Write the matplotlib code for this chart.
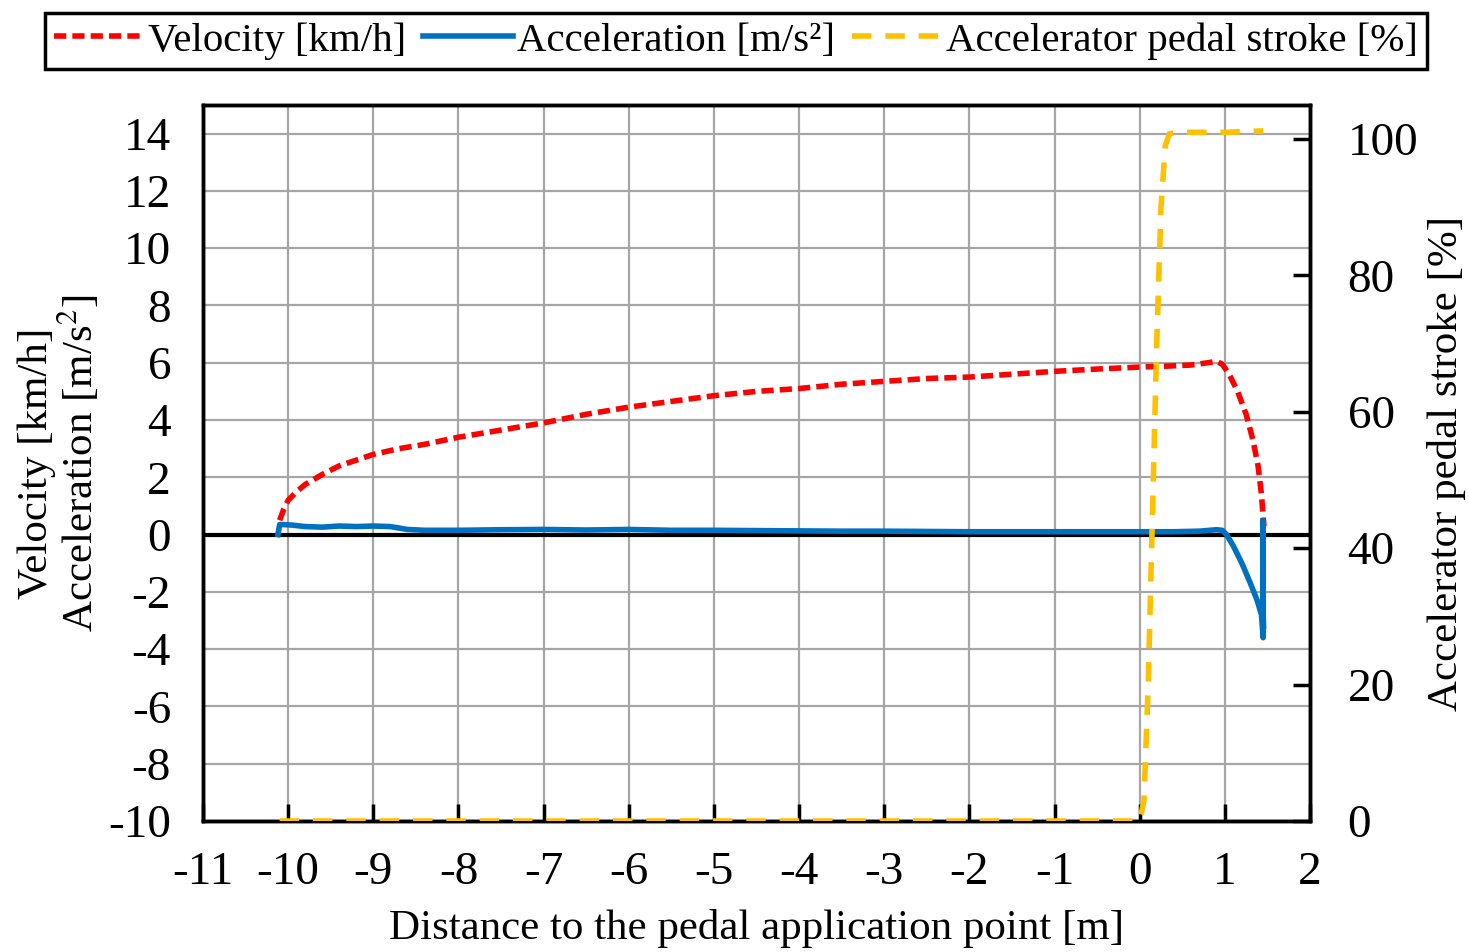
import matplotlib.pyplot as plt
import numpy as np

plt.rcParams['font.family'] = ['Liberation Serif', 'DejaVu Serif']
plt.rcParams['mathtext.fontset'] = 'stix'
plt.rcParams['axes.unicode_minus'] = False

# distance to pedal application point [m]
vel_x = [-10.1, -10.05, -10.0, -9.9, -9.8, -9.6, -9.4, -9.2, -9.0, -8.7, -8.4, -8.0,
         -7.5, -7.0, -6.5, -6.0, -5.5, -5.0, -4.5, -4.0, -3.5, -3.0, -2.5, -2.0,
         -1.5, -1.0, -0.5, 0.0, 0.3, 0.6, 0.8, 0.9, 0.97, 1.05, 1.15, 1.25, 1.33,
         1.39, 1.43, 1.45, 1.46]
vel_y = [0.5, 0.9, 1.2, 1.5, 1.75, 2.1, 2.4, 2.6, 2.8, 3.0, 3.15, 3.4,
         3.65, 3.9, 4.2, 4.45, 4.65, 4.85, 5.0, 5.1, 5.25, 5.35, 5.45, 5.5,
         5.6, 5.7, 5.78, 5.85, 5.88, 5.92, 6.0, 6.05, 5.95, 5.6, 5.0, 4.2, 3.3,
         2.4, 1.4, 0.6, 0.3]

acc_x = [-10.12, -10.1, -10.05, -9.95, -9.8, -9.6, -9.4, -9.2, -9.0, -8.8, -8.6,
         -8.4, -8.0, -7.5, -7.0, -6.5, -6.0, -5.5, -5.0, -4.5, -4.0, -3.5, -3.0,
         -2.5, -2.0, -1.5, -1.0, -0.5, 0.0, 0.4, 0.7, 0.9, 0.97, 1.02, 1.1, 1.2,
         1.3, 1.38, 1.43, 1.45, 1.445, 1.45, 1.455]
acc_y = [0.0, 0.35, 0.35, 0.33, 0.28, 0.26, 0.3, 0.28, 0.3, 0.28, 0.18,
         0.15, 0.15, 0.17, 0.18, 0.16, 0.18, 0.15, 0.15, 0.14, 0.13, 0.12, 0.12,
         0.11, 0.1, 0.1, 0.1, 0.1, 0.1, 0.1, 0.12, 0.17, 0.15, 0.0, -0.4, -1.0,
         -1.7, -2.3, -2.8, -3.6, 0.5, -2.8, -3.2]

ped_x = [-10.1, -5.0, 0.0, 0.05, 0.1, 0.15, 0.2, 0.25, 0.3, 0.35, 0.45, 1.0, 1.45]
ped_y = [0.0, 0.0, 0.0, 3.0, 20.0, 45.0, 70.0, 90.0, 99.0, 100.8, 101.0, 101.0, 101.2]

FS = 34   # tick labels
LS = 31   # axis labels

fig = plt.figure(figsize=(14.69, 9.52), dpi=100)
ax = fig.add_axes([203 / 1469, 1 - 821 / 952, 1107 / 1469, 716 / 952])
ax2 = ax.twinx()

ax.set_xlim(-11, 2)
ax.set_ylim(-10, 15)
ax.set_xticks(np.arange(-11, 3, 1))
ax.set_yticks(np.arange(-10, 15, 2))
ax.grid(True, color='#a6a6a6', linewidth=1.6)
ax.set_axisbelow(True)
ax.axhline(0, color='black', linewidth=3, zorder=2)

l1, = ax.plot(vel_x, vel_y, color='#ff0000', linestyle=(0, (2.2, 1.1)), linewidth=4, zorder=4)
l2, = ax.plot(acc_x, acc_y, color='#0070c0', linewidth=4, zorder=4)
l3, = ax2.plot(ped_x, ped_y, color='#ffc000', linestyle=(0, (3.5, 2.5)), linewidth=4, zorder=3)

ax2.set_ylim(0, 105)
ax2.set_yticks(np.arange(0, 101, 20))

ax.tick_params(axis='y', labelsize=FS, length=0, pad=23)
ax.tick_params(axis='x', labelsize=FS, direction='in', length=12, width=2.5, pad=22)
ax2.tick_params(axis='y', labelsize=FS, direction='in', length=12, width=2.5, pad=27)

for a in (ax, ax2):
    for s in a.spines.values():
        s.set_color('black')
        s.set_linewidth(2.5)

ax.set_xlabel('Distance to the pedal application point [m]', fontsize=LS, labelpad=11)
ax.set_ylabel('Velocity [km/h]\nAcceleration [m/s$^2$]', fontsize=LS, linespacing=1.0)
ax.yaxis.set_label_coords(-0.091, 0.5)
ax2.set_ylabel('Accelerator pedal stroke [%]', fontsize=LS)
ax2.yaxis.set_label_coords(1.106, 0.5)

leg = fig.legend([l1, l2, l3],
                 ['Velocity [km/h]', 'Acceleration [m/s²]', 'Accelerator pedal stroke [%]'],
                 loc='upper center', bbox_to_anchor=(0.501, 0.995), ncol=3, fontsize=29.5,
                 handlelength=2.2, handletextpad=0.1, columnspacing=0.4,
                 borderpad=0.22, borderaxespad=0.2, fancybox=False, framealpha=1)
leg.get_frame().set_edgecolor('black')
leg.get_frame().set_linewidth(2.5)

fig.savefig('out.png', dpi=100)
